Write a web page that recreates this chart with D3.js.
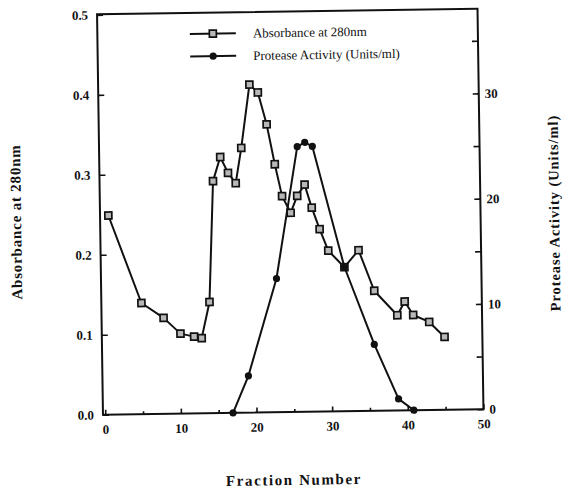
<!DOCTYPE html>
<html>
<head>
<meta charset="utf-8">
<script src="https://cdn.jsdelivr.net/npm/d3@7"></script>
<style>
  html, body { margin: 0; padding: 0; background: #fff; }
  svg { display: block; }
  text { font-family: "Liberation Serif", "Times New Roman", serif; fill: #111; }
</style>
</head>
<body>
<svg id="chart" width="566" height="490"></svg>
<script>
// Absorbance at 280 nm per fraction (left axis)
const absFraction = [0.8, 5, 7.9, 10.1, 11.9, 12.9, 14, 14.7, 15.7, 16.7, 17.7, 18.5, 19.7, 20.8, 21.9, 22.9, 23.8, 24.9, 25.8, 26.8, 27.7, 28.7, 29.8, 31.9, 33.8, 35.8, 38.8, 39.8, 40.9, 43, 45];
const absValues   = [0.249, 0.139, 0.12, 0.1, 0.096, 0.094, 0.139, 0.29, 0.32, 0.3, 0.287, 0.331, 0.41, 0.4, 0.36, 0.31, 0.27, 0.249, 0.27, 0.284, 0.255, 0.228, 0.201, 0.18, 0.201, 0.15, 0.119, 0.136, 0.119, 0.11, 0.091];

// Protease activity (Units/ml) per fraction (right axis)
const actFraction = [16.9, 19, 22.9, 25.9, 26.9, 27.9, 31.9, 35.7, 38.8, 40.8];
const actValues   = [0, 3.5, 12.7, 25.2, 25.6, 25.2, 13.7, 6.3, 1.1, 0];

// Axis ticks
const xMajorTicks = [0, 10, 20, 30, 40, 50];
const xMinorTicks = [5, 15, 25, 35, 45];
const leftTicks   = [0, 0.1, 0.2, 0.3, 0.4, 0.5];
const rightTicks  = [0, 10, 20, 30];
const rightMinor  = [5, 15, 25, 35];

const legendLabels = ["Absorbance at 280nm", "Protease Activity (Units/ml)"];

const svg = d3.select("#chart");
const plot = { left: 100, right: 480.5, top: 11.5, bottom: 412 };

// whole figure sits at a slight tilt
const root = svg.append("g").attr("transform", "rotate(-0.85 290 212)");

const x  = d3.scaleLinear().domain([-0.3, 50]).range([plot.left, plot.right]);
const yL = d3.scaleLinear().domain([0, 0.5]).range([plot.bottom, 12]);
const yR = d3.scaleLinear().domain([0, 38]).range([plot.bottom, 12]);

// frame
root.append("rect")
  .attr("x", plot.left).attr("y", plot.top)
  .attr("width", plot.right - plot.left).attr("height", plot.bottom - plot.top)
  .attr("fill", "none").attr("stroke", "#111").attr("stroke-width", 2);

function styleAxis(g) {
  g.select(".domain").remove();
  g.selectAll(".tick line").attr("stroke", "#111").attr("stroke-width", 1.6);
  g.selectAll(".tick text")
    .attr("font-family", "'Liberation Serif', 'Times New Roman', serif")
    .attr("font-size", 13)
    .attr("font-weight", "bold")
    .attr("fill", "#111");
}

// bottom axis
root.append("g").attr("transform", `translate(0,${plot.bottom})`)
  .call(d3.axisBottom(x).tickValues(xMajorTicks).tickFormat(d3.format("d"))
        .tickSizeInner(-5).tickSizeOuter(0).tickPadding(10))
  .call(styleAxis);
root.append("g").attr("transform", `translate(0,${plot.bottom})`)
  .call(d3.axisBottom(x).tickValues(xMinorTicks).tickFormat("")
        .tickSizeInner(-3).tickSizeOuter(0))
  .call(styleAxis);

// left axis
root.append("g").attr("transform", `translate(${plot.left},0)`)
  .call(d3.axisLeft(yL).tickValues(leftTicks).tickFormat(d3.format(".1f"))
        .tickSizeInner(-6).tickSizeOuter(0).tickPadding(9))
  .call(styleAxis);

// right axis
root.append("g").attr("transform", `translate(${plot.right},0)`)
  .call(d3.axisRight(yR).tickValues(rightTicks).tickFormat(d3.format("d"))
        .tickSizeInner(-6).tickSizeOuter(0).tickPadding(6))
  .call(styleAxis);
root.append("g").attr("transform", `translate(${plot.right},0)`)
  .call(d3.axisRight(yR).tickValues(rightMinor).tickFormat("")
        .tickSizeInner(-6).tickSizeOuter(0))
  .call(styleAxis);

// axis titles
root.append("text")
  .attr("transform", "translate(16,218) rotate(-90)")
  .attr("text-anchor", "middle").attr("dominant-baseline", "central")
  .attr("font-size", 15).attr("font-weight", "bold").attr("letter-spacing", 0.8)
  .text("Absorbance  at  280nm");
root.append("text")
  .attr("transform", "translate(554,217) rotate(-90)")
  .attr("text-anchor", "middle").attr("dominant-baseline", "central")
  .attr("font-size", 14.5).attr("font-weight", "bold").attr("letter-spacing", 0.9)
  .text("Protease  Activity  (Units/ml)");
root.append("text")
  .attr("x", 290).attr("y", 485)
  .attr("text-anchor", "middle")
  .attr("font-size", 15).attr("font-weight", "bold").attr("letter-spacing", 1.6)
  .text("Fraction  Number");

// series
const absData = absFraction.map((f, i) => ({ f, v: absValues[i] }));
const actData = actFraction.map((f, i) => ({ f, v: actValues[i] }));

const lineAbs = d3.line().x(d => x(d.f)).y(d => yL(d.v));
const lineAct = d3.line().x(d => x(d.f)).y(d => yR(d.v));

root.append("path").datum(actData).attr("d", lineAct)
  .attr("fill", "none").attr("stroke", "#111").attr("stroke-width", 2).attr("stroke-linejoin", "round");
root.append("path").datum(absData).attr("d", lineAbs)
  .attr("fill", "none").attr("stroke", "#111").attr("stroke-width", 2).attr("stroke-linejoin", "round");

const sq = 7;
root.append("g").selectAll("rect").data(absData).join("rect")
  .attr("x", d => x(d.f) - sq / 2).attr("y", d => yL(d.v) - sq / 2)
  .attr("width", sq).attr("height", sq)
  .attr("fill", "#b8b8b8").attr("stroke", "#111").attr("stroke-width", 1.7);

root.append("g").selectAll("circle").data(actData).join("circle")
  .attr("cx", d => x(d.f)).attr("cy", d => yR(d.v)).attr("r", 3.6)
  .attr("fill", "#111");

// legend
const legend = root.append("g");
const legendRows = [{ y: 32.5, type: "square" }, { y: 55, type: "circle" }];
legendRows.forEach((row, i) => {
  legend.append("line")
    .attr("x1", 192.5).attr("x2", 238.5).attr("y1", row.y).attr("y2", row.y)
    .attr("stroke", "#111").attr("stroke-width", 2);
  if (row.type === "square") {
    legend.append("rect")
      .attr("x", 215.5 - sq / 2).attr("y", row.y - sq / 2).attr("width", sq).attr("height", sq)
      .attr("fill", "#b8b8b8").attr("stroke", "#111").attr("stroke-width", 1.7);
  } else {
    legend.append("circle").attr("cx", 215.5).attr("cy", row.y).attr("r", 3.6).attr("fill", "#111");
  }
  legend.append("text")
    .attr("x", 255.5).attr("y", row.y + 4.5)
    .attr("font-size", 13)
    .text(legendLabels[i]);
});
</script>
</body>
</html>
